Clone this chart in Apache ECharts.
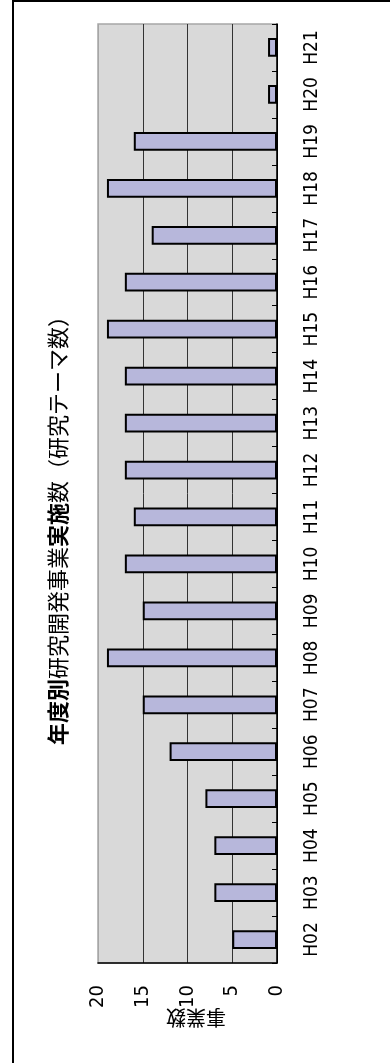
<!DOCTYPE html>
<html>
<head>
<meta charset="utf-8">
<script src="https://cdn.jsdelivr.net/npm/echarts@6/dist/echarts.min.js"></script>
<style>
html,body{margin:0;padding:0;background:#fff;}
#chart{width:390px;height:1063px;}
</style>
</head>
<body>
<div id="chart"></div>
<script>
const categories = ['H02','H03','H04','H05','H06','H07','H08','H09','H10','H11','H12','H13','H14','H15','H16','H17','H18','H19','H20','H21'];
const projectCounts = [5,7,7,8,12,15,19,15,17,16,17,17,17,19,17,14,19,16,1,1];
const valueTicks = ['0','5','10','15','20'];
const titleText = '{b|年度別}研究開発事業{b|実施}数（研究テーマ数）';
const axisName = '事業数';

const labelFont = '"DejaVu Sans Condensed","Liberation Sans Narrow","Noto Sans CJK JP",sans-serif';
const jpFont = '"Noto Sans CJK JP",sans-serif';

const chart = echarts.init(document.getElementById('chart'));
chart.setOption({
  animation: false,
  backgroundColor: '#fff',
  grid: {
    left: 98, right: 113, top: 24, bottom: 100,
    show: true, backgroundColor: '#D9D9D9', borderColor: '#A6A6A6', borderWidth: 1.5
  },
  xAxis: {
    type: 'value', inverse: true, min: 0, max: 20, interval: 5, position: 'bottom',
    axisLine: {show: true, lineStyle: {color: '#000', width: 1.5}},
    axisTick: {show: false},
    splitLine: {show: true, lineStyle: {color: ['#000','#333','#333','#333','#A6A6A6'], width: 1}},
    axisLabel: {
      rotate: 90, margin: 22, color: '#000', fontSize: 20, fontFamily: labelFont,
      formatter: (v) => valueTicks[valueTicks.indexOf(String(v))]
    }
  },
  yAxis: {
    type: 'category', data: categories, position: 'right',
    axisLine: {show: true, lineStyle: {color: '#000', width: 1.5}},
    axisTick: {show: true, inside: true, length: 5, lineStyle: {color: '#000'}},
    splitLine: {show: false},
    axisLabel: {interval: 0, rotate: 90, margin: 26, color: '#000', fontSize: 19, fontFamily: labelFont}
  },
  series: [{
    type: 'bar', data: projectCounts, barWidth: '40%',
    itemStyle: {color: '#B7B7DB', borderColor: '#000', borderWidth: 2}
  }],
  graphic: [
    {type: 'line', shape: {x1: 13, y1: 0, x2: 13, y2: 1063}, style: {stroke: '#000', lineWidth: 2}},
    {type: 'line', shape: {x1: 12, y1: 1, x2: 390, y2: 1}, style: {stroke: '#000', lineWidth: 2}},
    {type: 'text', x: 58, y: 525, rotation: Math.PI / 2,
      style: {text: titleText, fontSize: 22, fontFamily: jpFont, fill: '#000', align: 'center', verticalAlign: 'middle',
        rich: {b: {fontWeight: 'bold', fontSize: 22, fontFamily: jpFont}}}},
    {type: 'text', x: 196, y: 1018, rotation: Math.PI,
      style: {text: axisName, fontSize: 20, fontFamily: jpFont, fill: '#000', align: 'center', verticalAlign: 'middle'}}
  ]
});
</script>
</body>
</html>
